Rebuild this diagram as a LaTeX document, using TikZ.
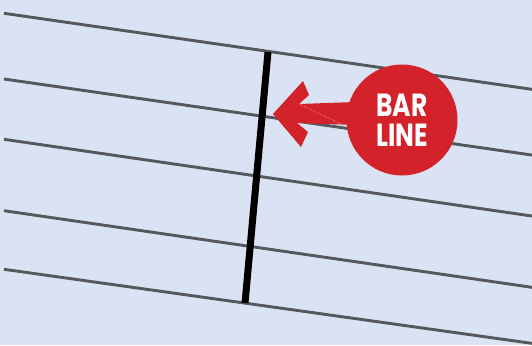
\documentclass[tikz,border=0pt]{standalone}
\usepackage{fontspec}
\newfontfamily\barfont{Poppins}
\usepackage{tikz}
\usetikzlibrary{calc,positioning}
\definecolor{paperblue}{HTML}{D9E3F3}
\definecolor{staffgrey}{HTML}{55595D}
\definecolor{signred}{HTML}{D3222A}

\begin{document}
\begin{tikzpicture}[x=1pt,y=-1pt]
    \fill[paperblue] (0,0) rectangle (532,345);
    \useasboundingbox (0,0) rectangle (532,345);
    \clip (0,0) rectangle (532,345);
    % staff lines
    \foreach \yl/\yr in {13.3/89.3,79/155,139.3/216,210.7/287.3,269.3/343.3}
      \draw[staffgrey,line width=2.9pt] (4,\yl) -- (540,\yr+1.2);
    % bar line
    \coordinate (bartop) at (268,52);
    \coordinate (barbot) at (245,303);
    \draw[black,line width=7pt] (bartop) -- (barbot);
    % label and arrow
    \coordinate (tip) at (273,114);
    \coordinate (mid) at (402,122);
    \fill[signred] (tip) -- ++(30,-33) -- ++(6,14) -- ++(-10,9) -- ($(mid)+(-47,-20)$)
      -- ($(mid)+(-47,3)$) -- ($(tip)+(24,9)$) -- ++(11,9) -- ++(-7,15) -- cycle;
    \draw[white,line width=0.4pt,densely dotted] ($(tip)+(26,-10)$) -- ($(mid)+(-59,3)$);
    \node[circle,fill=signred,minimum size=111pt,inner sep=0pt,text=white,align=center,
      font=\barfont\bfseries\fontsize{32}{30}\selectfont] (lbl) at (402,120)
      {\scalebox{0.78}[1]{BAR}\\\scalebox{0.78}[1]{LINE}};
  \end{tikzpicture}
\end{document}
